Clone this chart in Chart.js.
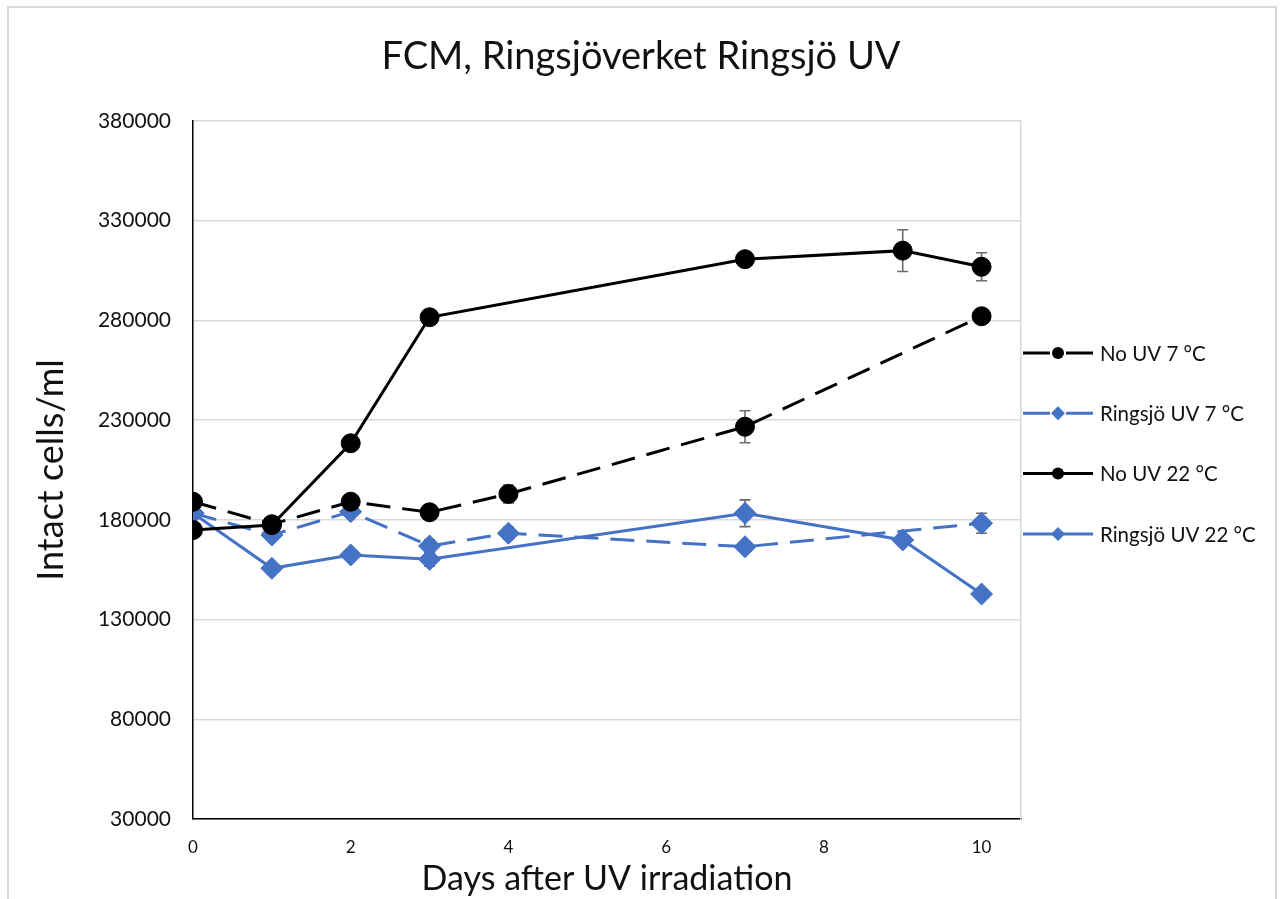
<!DOCTYPE html>
<html>
<head>
<meta charset="utf-8">
<script src="https://cdn.jsdelivr.net/npm/chart.js@4.4.1/dist/chart.umd.min.js"></script>
<style>
  html, body { margin: 0; padding: 0; background: #fff; overflow: hidden; }
  #frame { position: absolute; left: 7px; top: 6px; width: 1270px; height: 1000px; border: 2px solid #d9d9d9; box-sizing: border-box; }
  #c { position: absolute; left: 0; top: 0; }
</style>
</head>
<body>
<div id="frame"></div>
<canvas id="c" width="1282" height="899"></canvas>
<script>
// dias medidos
const days7 = [0, 1, 2, 3, 4, 7, 10];
const days22 = [0, 1, 2, 3, 7, 9, 10];

const noUv7 = [189100, 177800, 189100, 183800, 193000, 226700, 282100];
const ringsjo7 = [183300, 172400, 184100, 166900, 173300, 166500, 178300];
const noUv22 = [174900, 177400, 218400, 281600, 310700, 315000, 306900];
const ringsjo22 = [183300, 155700, 162400, 160200, 183300, 169900, 142800];

// felstaplar (+/-)
const noUv7Err = [0, 0, 0, 0, 4500, 8000, 0];
const ringsjo7Err = [0, 0, 0, 3000, 3000, 0, 5000];
const noUv22Err = [0, 0, 0, 0, 0, 10500, 7000];
const ringsjo22Err = [0, 0, 0, 3500, 6700, 0, 0];

const seriesNames = ['No UV 7 °C', 'Ringsjö UV 7 °C', 'No UV 22 °C', 'Ringsjö UV 22 °C'];
const xTicks = [0, 2, 4, 6, 8, 10];
const yMin = 30000, yMax = 380000, yStep = 50000;

const black = '#000000';
const blue = '#4472C4';
const FONT = 'Lato, "Open Sans", sans-serif';

function pts(xs, ys) {
    return xs.map((x, i) => ({ x: x, y: ys[i] }));
}

function makeSet(label, xs, ys, errs, color, dashed, style, order) {
    const circle = style === 'circle';
    return {
        label: label,
        data: pts(xs, ys),
        errors: errs,
        borderColor: color,
        backgroundColor: color,
        borderWidth: 3,
        borderDash: dashed ? [24, 12] : [],
        pointStyle: style,
        pointRadius: circle ? 9.5 : 11,
        pointBorderWidth: 1,
        pointBorderColor: color,
        pointBackgroundColor: color,
        tension: 0,
        order: order
    };
}

// felstaplar ritas under markorerna
const errorBars = {
    id: 'errorBars',
    beforeDatasetsDraw(chart) {
        const ctx = chart.ctx;
        const xs = chart.scales.x, ys = chart.scales.y;
        ctx.save();
        ctx.strokeStyle = '#6b6b6b';
        ctx.lineWidth = 1.6;
        chart.data.datasets.forEach(ds => {
            ds.data.forEach((p, i) => {
                const e = ds.errors[i];
                if (!e) return;
                const px = xs.getPixelForValue(p.x);
                const top = ys.getPixelForValue(p.y + e);
                const bot = ys.getPixelForValue(p.y - e);
                ctx.beginPath();
                ctx.moveTo(px, top); ctx.lineTo(px, bot);
                ctx.moveTo(px - 5.5, top); ctx.lineTo(px + 5.5, top);
                ctx.moveTo(px - 5.5, bot); ctx.lineTo(px + 5.5, bot);
                ctx.stroke();
            });
        });
        ctx.restore();
    }
};

// legend till höger om ritytan
const sideLegend = {
    id: 'sideLegend',
    afterDraw(chart) {
        const ctx = chart.ctx;
        const a = chart.chartArea;
        ctx.save();
        chart.data.datasets.forEach((ds, i) => {
            const y = a.top + 232 + i * 60.3;
            const x0 = a.right + 2, x1 = a.right + 72, xm = (x0 + x1) / 2;
            ctx.strokeStyle = ds.borderColor;
            ctx.lineWidth = 3;
            ctx.setLineDash([]);
            ctx.beginPath();
            if (ds.borderDash.length) {
                ctx.moveTo(x0, y); ctx.lineTo(xm - 8, y);
                ctx.moveTo(xm + 8, y); ctx.lineTo(x1, y);
            } else {
                ctx.moveTo(x0, y); ctx.lineTo(x1, y);
            }
            ctx.stroke();
            ctx.fillStyle = ds.borderColor;
            ctx.beginPath();
            if (ds.pointStyle === 'circle') {
                ctx.arc(xm, y, 6, 0, Math.PI * 2);
            } else {
                ctx.moveTo(xm, y - 7); ctx.lineTo(xm + 7, y);
                ctx.lineTo(xm, y + 7); ctx.lineTo(xm - 7, y);
                ctx.closePath();
            }
            ctx.fill();
            ctx.fillStyle = '#111';
            ctx.font = '20.5px ' + FONT;
            ctx.textBaseline = 'middle';
            ctx.textAlign = 'left';
            ctx.fillText(ds.label, x1 + 7, y + 1);
        });
        ctx.restore();
    }
};

const ctx = document.getElementById('c').getContext('2d');
new Chart(ctx, {
    type: 'line',
    data: {
        datasets: [
            makeSet(seriesNames[0], days7, noUv7, noUv7Err, black, true, 'circle', 2),
            makeSet(seriesNames[1], days7, ringsjo7, ringsjo7Err, blue, true, 'rectRot', 3),
            makeSet(seriesNames[2], days22, noUv22, noUv22Err, black, false, 'circle', 1),
            makeSet(seriesNames[3], days22, ringsjo22, ringsjo22Err, blue, false, 'rectRot', 4)
        ]
    },
    options: {
        responsive: false,
        devicePixelRatio: 1,
        animation: false,
        layout: { padding: { left: 0, right: 0, top: 0, bottom: 0 } },
        plugins: {
            legend: { display: false },
            tooltip: { enabled: false },
            title: {
                display: true,
                text: 'FCM, Ringsjöverket Ringsjö UV',
                color: '#111',
                font: { family: FONT, size: 38, weight: 'normal' },
                padding: { top: 34, bottom: 41.4 }
            }
        },
        scales: {
            x: {
                type: 'linear',
                min: 0,
                max: 10.5,
                afterFit: s => { s.height = 80; },
                afterBuildTicks: s => { s.ticks = xTicks.map(v => ({ value: v })); },
                grid: { display: false, drawTicks: false },
                border: { display: true, color: '#000', width: 1.5 },
                ticks: {
                    padding: 18,
                    color: '#111',
                    font: { family: FONT, size: 17 },
                    callback: v => String(v)
                },
                title: {
                    display: true,
                    text: 'Days after UV irradiation',
                    color: '#111',
                    font: { family: FONT, size: 34 },
                    padding: { top: 0, bottom: 0 }
                }
            },
            y: {
                min: yMin,
                max: yMax,
                afterFit: s => { s.width = 193; },
                ticks: {
                    stepSize: yStep,
                    padding: 22,
                    color: '#111',
                    font: { family: FONT, size: 21 },
                    callback: v => String(v)
                },
                grid: { color: '#d9d9d9', lineWidth: 1.5, drawTicks: false },
                border: { display: true, color: '#000', width: 1.5 },
                title: {
                    display: true,
                    text: 'Intact cells/ml',
                    color: '#111',
                    font: { family: FONT, size: 36 },
                    padding: { top: 30, bottom: 0 }
                }
            },
            // tom axel som håller plats för legenden och ger ramen till höger
            side: {
                position: 'right',
                display: true,
                afterFit: s => { s.width = 261; },
                grid: { display: false, drawTicks: false },
                border: { display: true, color: '#d9d9d9', width: 1.5 },
                ticks: { display: false }
            }
        }
    },
    plugins: [errorBars, sideLegend]
});
</script>
</body>
</html>
